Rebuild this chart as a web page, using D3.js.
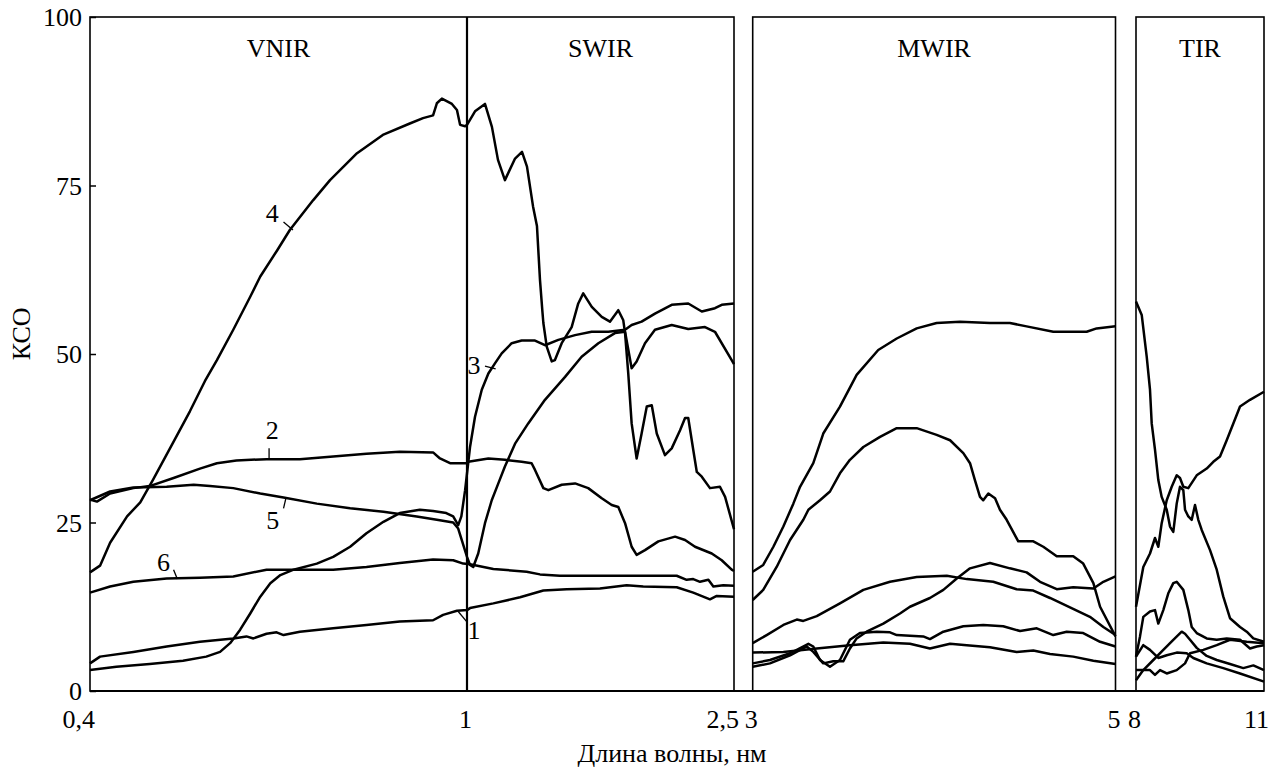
<!DOCTYPE html>
<html>
<head>
<meta charset="utf-8">
<script src="https://cdnjs.cloudflare.com/ajax/libs/d3/7.8.5/d3.min.js"></script>
<style>
body { margin: 0; background: #fff; }
svg text { font-family: "Liberation Serif", "Times New Roman", serif; fill: #000; }
</style>
</head>
<body>
<svg id="graph"></svg>
<script>
//Spectra, VNIR + SWIR (wavelength um, KCO %)
var curve1 = [[0.4,4.1],[0.416,5.1],[0.469,5.8],[0.522,6.6],[0.575,7.3],[0.628,7.8],[0.649,8.1],[0.66,7.8],[0.681,8.5],[0.697,8.7],[0.708,8.3],[0.734,8.8],[0.787,9.3],[0.84,9.8],[0.893,10.3],[0.946,10.5],[0.962,11.3],[0.984,11.9],[1.0,12],[1.017,12.3],[1.148,13],[1.298,13.9],[1.429,14.9],[1.56,15.1],[1.747,15.2],[1.897,15.7],[1.99,15.5],[2.178,15.4],[2.271,14.6],[2.365,13.6],[2.403,14.1],[2.5,14]];
var curve2 = [[0.4,28.4],[0.411,28.1],[0.432,29.3],[0.469,30.1],[0.495,30.4],[0.533,31.6],[0.575,33],[0.602,33.8],[0.633,34.2],[0.681,34.4],[0.734,34.4],[0.787,34.8],[0.84,35.2],[0.893,35.5],[0.946,35.4],[0.957,34.5],[0.973,33.8],[1.0,33.8],[1.007,34],[1.12,34.5],[1.213,34.3],[1.307,34],[1.363,33.8],[1.382,32.8],[1.429,30.1],[1.457,29.8],[1.532,30.6],[1.607,30.8],[1.681,30.1],[1.757,28.6],[1.813,27.6],[1.85,27.3],[1.888,24.9],[1.925,21.4],[1.953,20.2],[2.0,20.9],[2.075,22.2],[2.169,22.9],[2.225,22.4],[2.281,21.4],[2.375,20.4],[2.431,19.4],[2.487,18],[2.5,17.8]];
var curve3 = [[0.4,3.1],[0.442,3.6],[0.495,4],[0.548,4.5],[0.585,5.1],[0.607,5.8],[0.623,7.1],[0.639,9.1],[0.655,11.5],[0.671,14],[0.687,16],[0.703,17.2],[0.724,18],[0.761,18.9],[0.787,19.9],[0.814,21.4],[0.84,23.4],[0.867,25.1],[0.893,26.4],[0.925,26.9],[0.946,26.7],[0.967,26.4],[0.978,25.9],[0.986,24.6],[0.991,25.9],[0.997,29.8],[1.017,36.2],[1.045,40.7],[1.083,44.7],[1.12,47.1],[1.157,48.6],[1.195,50.1],[1.251,51.6],[1.307,52],[1.382,52],[1.438,51.3],[1.513,52.1],[1.607,52.8],[1.7,53.3],[1.794,53.3],[1.888,53.6],[1.925,54.3],[1.981,54.8],[2.056,56],[2.15,57.3],[2.243,57.5],[2.319,56.3],[2.393,56.8],[2.431,57.3],[2.5,57.5]];
var curve4 = [[0.4,17.6],[0.416,18.6],[0.432,22],[0.459,25.9],[0.48,28],[0.5,31.3],[0.532,36.8],[0.559,41.5],[0.583,46],[0.602,49.1],[0.628,53.6],[0.655,58.5],[0.671,61.5],[0.698,65.4],[0.718,68.4],[0.755,72.8],[0.782,75.8],[0.825,79.8],[0.866,82.5],[0.909,84.2],[0.93,85],[0.946,85.4],[0.952,87.2],[0.96,87.9],[0.976,87.1],[0.984,86.2],[0.989,84],[0.997,83.8],[1.0,84],[1.045,86],[1.101,87.1],[1.14,83.7],[1.174,78.8],[1.213,75.8],[1.27,79],[1.309,80],[1.337,77.8],[1.371,71.9],[1.393,69],[1.41,61],[1.423,56.5],[1.429,54.6],[1.448,51.1],[1.476,48.9],[1.494,49.1],[1.532,51.6],[1.588,54],[1.625,57.5],[1.653,59],[1.701,57],[1.757,55.5],[1.803,54.8],[1.85,56.5],[1.878,55],[1.888,53.1],[1.906,47.1],[1.925,39.7],[1.953,34.5],[1.981,38.2],[2.01,42.2],[2.038,42.4],[2.066,38.2],[2.112,35],[2.15,36],[2.197,38.7],[2.225,40.5],[2.243,40.5],[2.271,35.8],[2.291,32.5],[2.319,31.8],[2.365,30.1],[2.421,30.3],[2.45,28.8],[2.5,24]];
var curve5 = [[0.4,28.3],[0.432,29.6],[0.469,30.2],[0.522,30.3],[0.565,30.6],[0.591,30.4],[0.628,30.1],[0.671,29.3],[0.708,28.7],[0.761,27.8],[0.814,27.1],[0.867,26.6],[0.92,25.9],[0.952,25.4],[0.978,25],[0.986,24.1],[1.0,19.9],[1.017,18.7],[1.035,18.4],[1.063,20.4],[1.101,24.9],[1.139,28.3],[1.176,30.8],[1.213,33.3],[1.27,36.7],[1.344,39.7],[1.438,43.2],[1.551,46.6],[1.644,49.6],[1.738,51.6],[1.831,53.1],[1.888,53.3],[1.925,47.9],[1.953,48.9],[2.0,51.6],[2.056,53.6],[2.15,54.3],[2.243,53.7],[2.337,54],[2.393,53.3],[2.487,49.1],[2.5,48.5]];
var curve6 = [[0.4,14.6],[0.432,15.5],[0.469,16.2],[0.522,16.7],[0.575,16.8],[0.628,17],[0.681,18],[0.734,18],[0.787,18],[0.84,18.4],[0.893,19],[0.946,19.5],[0.978,19.4],[0.994,18.9],[1.017,18.8],[1.148,18.1],[1.335,17.7],[1.41,17.3],[1.522,17.1],[1.897,17.1],[2.178,17.1],[2.234,16.5],[2.271,16.6],[2.309,16.2],[2.356,16.5],[2.384,15.5],[2.44,15.7],[2.5,15.6]];

//Spectra, MWIR
var mwirA = [[3,17.7],[3.058,18.7],[3.114,21.4],[3.169,24.4],[3.224,27.8],[3.261,30.3],[3.334,33.8],[3.389,38.2],[3.481,42.2],[3.573,46.9],[3.692,50.6],[3.794,52.3],[3.904,53.8],[4.014,54.6],[4.143,54.8],[4.308,54.6],[4.418,54.6],[4.51,54.1],[4.657,53.3],[4.841,53.3],[4.896,53.8],[5,54.1]];
var mwirB = [[3,13.5],[3.058,15],[3.132,18.4],[3.206,22.4],[3.279,25.4],[3.307,26.9],[3.371,28.3],[3.426,29.6],[3.481,32.3],[3.536,34.3],[3.61,36.2],[3.702,37.7],[3.794,39],[3.904,39],[4.014,38],[4.088,37.2],[4.161,35.3],[4.198,33.8],[4.225,31.3],[4.253,28.8],[4.271,28.3],[4.299,29.3],[4.336,28.6],[4.363,26.9],[4.4,25.4],[4.464,22.2],[4.547,22.2],[4.602,21.4],[4.676,20],[4.767,20],[4.822,18.9],[4.878,16],[4.915,12.5],[5,8.1]];
var mwirC = [[3,3.6],[3.095,4.1],[3.206,5.3],[3.298,6.6],[3.334,5.8],[3.389,4.1],[3.444,4.4],[3.499,4.4],[3.536,6.3],[3.573,7.8],[3.628,8.8],[3.72,10],[3.812,11.5],[3.867,12.5],[3.977,13.8],[4.051,15],[4.125,16.7],[4.198,18.2],[4.308,19],[4.418,18.2],[4.51,17.6],[4.584,16.2],[4.676,15.1],[4.767,15.4],[4.878,15.2],[4.933,16.2],[5,17]];
var mwirD = [[3,7.1],[3.077,8.3],[3.169,9.8],[3.243,10.6],[3.279,10.4],[3.353,11.1],[3.481,13],[3.61,15],[3.757,16.2],[3.904,16.9],[4.07,17.1],[4.18,16.6],[4.326,16.2],[4.455,15.1],[4.547,14.9],[4.639,13.8],[4.749,12.4],[4.859,11],[4.933,9.5],[5,8.3]];
var mwirE = [[3,4.1],[3.095,4.6],[3.206,5.6],[3.307,7],[3.334,6.6],[3.371,4.6],[3.426,3.6],[3.481,4.6],[3.536,7.6],[3.591,8.6],[3.684,8.8],[3.757,8.7],[3.794,8.3],[3.94,8.1],[3.977,7.7],[4.051,8.8],[4.161,9.6],[4.271,9.8],[4.381,9.6],[4.474,8.9],[4.566,9.3],[4.657,8.3],[4.731,8.8],[4.822,8.6],[4.915,7.3],[5,6.6]];
var mwirF = [[3,5.7],[3.169,5.8],[3.353,6.3],[3.536,6.8],[3.72,7.2],[3.867,7],[3.977,6.3],[4.088,7],[4.18,6.8],[4.308,6.5],[4.455,5.8],[4.547,6],[4.639,5.5],[4.767,5.1],[4.878,4.5],[5,4]];

//Spectra, TIR
var tirA = [[8,57.8],[8.134,55.8],[8.251,49.6],[8.328,44.7],[8.368,39.7],[8.445,35.8],[8.523,31.3],[8.602,28.8],[8.72,26.9],[8.797,24.4],[8.874,23.6],[8.954,27.8],[9.031,30.3],[9.109,29.8],[9.149,26.9],[9.226,25.9],[9.306,25.4],[9.383,27.6],[9.46,25.4],[9.54,23.9],[9.735,20.9],[9.892,18],[10.046,14],[10.203,10.8],[10.438,9.5],[10.595,8.8],[10.75,7.8],[11,7.3]];
var tirB = [[8,12.5],[8.171,18.4],[8.328,20.4],[8.445,22.7],[8.523,21.4],[8.602,24.9],[8.72,28.3],[8.837,30.3],[8.954,32],[9.031,31.6],[9.109,30.3],[9.226,30.1],[9.423,32],[9.657,33],[9.812,34],[9.969,34.8],[10.126,37.2],[10.281,39.7],[10.438,42.2],[10.672,43.2],[11,44.4]];
var tirC = [[8,5.1],[8.094,8.1],[8.171,11],[8.328,11.8],[8.445,12],[8.523,10],[8.64,12],[8.757,14.5],[8.874,16],[8.954,16.2],[9.109,15],[9.226,12],[9.306,9.5],[9.423,8.6],[9.657,7.8],[9.892,7.6],[10.126,7.8],[10.438,7.6],[10.672,6.3],[10.829,6.6],[11,6.8]];
var tirD = [[8,1.6],[8.171,3.1],[8.406,4.6],[8.64,6.1],[8.874,7.6],[9.071,8.8],[9.149,8.5],[9.266,7.6],[9.423,6.4],[9.657,5.2],[9.892,4.6],[10.203,4],[10.515,3.4],[10.75,3.8],[11,3.1]];
var tirE = [[8,3.1],[8.328,3.1],[8.445,2.4],[8.563,3.1],[8.72,2.6],[8.954,3.1],[9.149,4.1],[9.266,5.6],[9.578,6.1],[9.892,6.8],[10.203,7.6],[10.595,7.3],[11,7.1]];
var tirF = [[8,5.1],[8.171,6.8],[8.328,6.1],[8.523,4.9],[8.72,5.3],[8.954,5.7],[9.188,5.6],[9.343,4.9],[9.657,4.1],[10.046,3.4],[10.438,2.6],[11,1.4]];

//Tick labels and titles
var yTicks = [0, 25, 50, 75, 100];
var xTicksNear = [0.4, 1, 2.5];
var xTicksMid = [3, 5];
var xTicksFar = [8, 11];
var rangeTitles = ["VNIR", "SWIR", "MWIR", "TIR"];
var yTitle = "КСО";
var xTitle = "Длина волны, нм";

//Curve number labels (text point, leader line start and end)
var curveNames = ["1", "2", "3", "4", "5", "6"];
var namePoints = [[1.039, 9.1], [0.690, 38.7], [1.039, 48.4], [0.690, 71.0], [0.691, 25.4], [0.517, 19.2]];
var leaderFrom = [[0.986, 11.8], [0.685, 36.0], [1.101, 48.2], [0.708, 69.6], [0.708, 27.1], [0.533, 18.0]];
var leaderTo = [[0.9995, 10.3], [0.685, 34.3], [1.161, 47.8], [0.723, 68.4], [0.712, 28.7], [0.539, 16.6]];

//Set graph size
var size = {width: 1283, height: 769};
var svg = d3.select("#graph")
    .attr("width", size.width)
    .attr("height", size.height);

var fontSize = 26;
var plotBottom = 691;
var plotTop = 17;

//Define scales
var yScale = d3.scaleLinear().domain([0, 100]).range([plotBottom, plotTop]);
var xNear = d3.scaleLinear().domain([0.4, 1, 2.5]).range([90, 467, 734]);
var xMid = d3.scaleLinear().domain([3, 5]).range([752.7, 1115.5]);
var xFar = d3.scaleLinear().domain([8, 11]).range([1136, 1264]);

var panels = [
    {scale: xNear, ticks: xTicksNear, fmt: ["0,4", "1", "2,5"], series: [curve1, curve2, curve3, curve4, curve5, curve6]},
    {scale: xMid, ticks: xTicksMid, fmt: ["3", "5"], series: [mwirA, mwirB, mwirC, mwirD, mwirE, mwirF]},
    {scale: xFar, ticks: xTicksFar, fmt: ["8", "11"], series: [tirA, tirB, tirC, tirD, tirE, tirF]}
];

//Draw panel frames
panels.forEach(function(p){
    var r = p.scale.range();
    svg.append("rect")
        .attr("x", r[0])
        .attr("y", yScale(100))
        .attr("width", r[r.length - 1] - r[0])
        .attr("height", yScale(0) - yScale(100))
        .attr("fill", "none")
        .attr("stroke", "#000")
        .attr("stroke-width", 1.6);
});

//Continuous bottom line
svg.append("line")
    .attr("x1", xNear(0.4)).attr("x2", xFar(11))
    .attr("y1", yScale(0)).attr("y2", yScale(0))
    .attr("stroke", "#000").attr("stroke-width", 1.8);

//1 um divider
svg.append("line")
    .attr("x1", xNear(1)).attr("x2", xNear(1))
    .attr("y1", yScale(100)).attr("y2", yScale(0))
    .attr("stroke", "#000").attr("stroke-width", 2.2);

//Y axis
var yAxis = d3.axisLeft(yScale)
    .tickValues(yTicks)
    .tickSize(-6)
    .tickPadding(8);
var yG = svg.append("g")
    .attr("transform", "translate(" + xNear(0.4) + ",0)")
    .call(yAxis);
yG.select(".domain").remove();
yG.selectAll("line").attr("stroke", "#000").attr("stroke-width", 1.5);
yG.selectAll("text")
    .attr("font-size", fontSize)
    .attr("font-family", "Liberation Serif, serif")
    .attr("dy", "0.34em");

//X tick labels
panels.forEach(function(p){
    svg.selectAll(null)
        .data(p.ticks)
        .enter()
        .append("text")
        .attr("x", function(t){ return p.scale(t) + 5; })
        .attr("y", 728)
        .attr("text-anchor", "end")
        .attr("font-size", fontSize)
        .text(function(t, i){ return p.fmt[i]; });
});

//Range titles
var titleX = [(xNear(0.4) + xNear(1)) / 2, (xNear(1) + xNear(2.5)) / 2, (xMid(3) + xMid(5)) / 2, (xFar(8) + xFar(11)) / 2];
svg.selectAll(".rangeTitle")
    .data(rangeTitles)
    .enter()
    .append("text")
    .attr("class", "rangeTitle")
    .attr("x", function(d, i){ return titleX[i]; })
    .attr("y", yScale(100) + 40)
    .attr("text-anchor", "middle")
    .attr("font-size", fontSize)
    .text(function(d){ return d; });

//Axis titles
svg.append("text")
    .attr("transform", "translate(30," + yScale(53) + ") rotate(-90)")
    .attr("text-anchor", "middle")
    .attr("font-size", fontSize)
    .text(yTitle);

svg.append("text")
    .attr("x", 672)
    .attr("y", 762)
    .attr("text-anchor", "middle")
    .attr("font-size", fontSize)
    .text(xTitle);

//Draw spectra
panels.forEach(function(p){
    var line = d3.line()
        .x(function(d){ return p.scale(d[0]); })
        .y(function(d){ return yScale(d[1]); });
    svg.append("g")
        .selectAll("path")
        .data(p.series)
        .enter()
        .append("path")
        .attr("d", line)
        .attr("fill", "none")
        .attr("stroke", "#000")
        .attr("stroke-width", 2.5)
        .attr("stroke-linejoin", "round");
});

//Curve numbers with leader lines
svg.selectAll(".leader")
    .data(curveNames)
    .enter()
    .append("line")
    .attr("class", "leader")
    .attr("x1", function(d, i){ return xNear(leaderFrom[i][0]); })
    .attr("y1", function(d, i){ return yScale(leaderFrom[i][1]); })
    .attr("x2", function(d, i){ return xNear(leaderTo[i][0]); })
    .attr("y2", function(d, i){ return yScale(leaderTo[i][1]); })
    .attr("stroke", "#000")
    .attr("stroke-width", 1.3);

svg.selectAll(".curveName")
    .data(curveNames)
    .enter()
    .append("text")
    .attr("class", "curveName")
    .attr("x", function(d, i){ return xNear(namePoints[i][0]); })
    .attr("y", function(d, i){ return yScale(namePoints[i][1]); })
    .attr("dy", "0.35em")
    .attr("text-anchor", "middle")
    .attr("font-size", fontSize)
    .text(function(d){ return d; });
</script>
</body>
</html>
